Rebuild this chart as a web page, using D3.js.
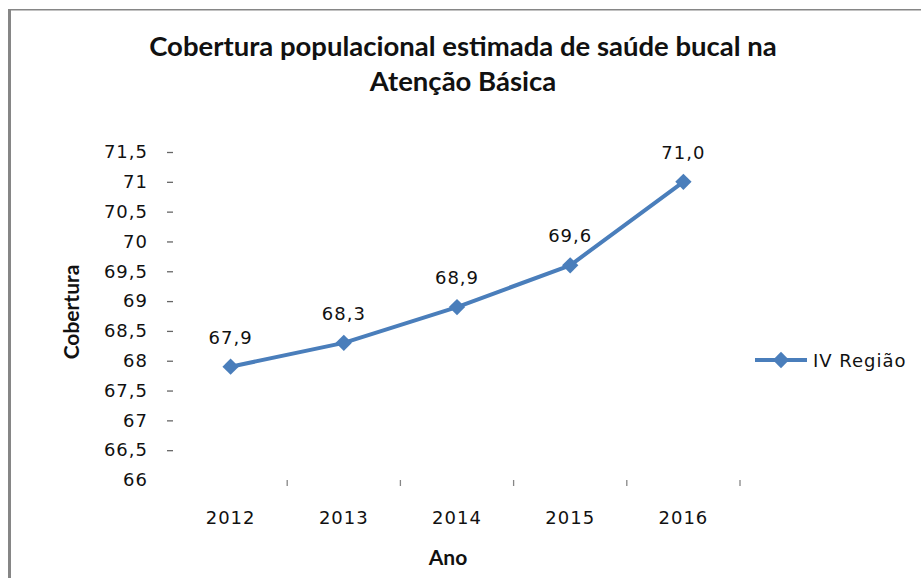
<!DOCTYPE html>
<html>
<head>
<meta charset="utf-8">
<script src="https://cdn.jsdelivr.net/npm/d3@7"></script>
<style>
  html, body { margin: 0; padding: 0; background: #fff; }
  svg { display: block; }
</style>
</head>
<body>
<svg id="chart" width="921" height="578"></svg>
<script>
// Cobertura populacional estimada de saúde bucal – IV Região
const years = ["2012", "2013", "2014", "2015", "2016"];
const coverage = [67.9, 68.3, 68.9, 69.6, 71.0];
const yTicks = [66, 66.5, 67, 67.5, 68, 68.5, 69, 69.5, 70, 70.5, 71, 71.5];
const seriesName = "IV Região";
const titleLines = ["Cobertura populacional estimada de saúde bucal na", "Atenção Básica"];
const xTitle = "Ano";
const yTitle = "Cobertura";

const svg = d3.select("#chart");
const W = 921, H = 578;
const plot = { left: 174, right: 740, top: 152, bottom: 480 };

const lineColor = "#4A7EBB";
const axisGray = "#868686";
const numFont = "'DejaVu Sans', Verdana, sans-serif";
const titleFont = "Lato, 'Open Sans', sans-serif";

// frame (left and top edges)
svg.append("rect").attr("x", 8).attr("y", 9).attr("width", 3).attr("height", H - 9).attr("fill", axisGray);
svg.append("rect").attr("x", 8).attr("y", 9).attr("width", W - 8).attr("height", 1.5).attr("fill", axisGray);

// scales
const x = d3.scaleBand().domain(years).range([plot.left, plot.right]);
const y = d3.scaleLinear().domain([66, 71.5]).range([plot.bottom, plot.top]);

// y axis: labels plus short outward dashes, no axis line
const yAxis = svg.append("g").attr("transform", `translate(${plot.left - 1},0)`)
  .call(d3.axisLeft(y).tickValues(yTicks).tickSize(6).tickPadding(19)
    .tickFormat(d => d3.format(".1~f")(d).replace(".", ",")));
yAxis.select(".domain").remove();
yAxis.selectAll(".tick line").attr("stroke", "#666").attr("stroke-width", 1.3)
  .attr("display", d => d === 66 ? "none" : null);
yAxis.selectAll(".tick text").attr("font-family", numFont).attr("font-size", 18)
  .attr("letter-spacing", 1).attr("fill", "#111");

// x axis: tick marks between categories, no axis line
const xg = svg.append("g").attr("transform", `translate(0,${plot.bottom})`);
const bounds = years.map(d => x(d) + x.bandwidth());
xg.selectAll("line.tick").data(bounds).join("line")
  .attr("x1", d => d).attr("x2", d => d).attr("y1", 0).attr("y2", 6)
  .attr("stroke", axisGray).attr("stroke-width", 1.3);
xg.selectAll("text.year").data(years).join("text")
  .attr("class", "year")
  .attr("x", d => x(d) + x.bandwidth() / 2).attr("y", 44)
  .attr("text-anchor", "middle")
  .attr("font-family", numFont).attr("font-size", 18).attr("letter-spacing", 1)
  .attr("fill", "#111").text(d => d);

// series line
const pts = years.map((yr, i) => ({ yr, v: coverage[i] }));
const px = d => x(d.yr) + x.bandwidth() / 2;
svg.append("path").datum(pts)
  .attr("fill", "none").attr("stroke", lineColor).attr("stroke-width", 4)
  .attr("stroke-linejoin", "round")
  .attr("d", d3.line().x(px).y(d => y(d.v)));

const diamond = d3.symbol().type(d3.symbolDiamond2).size(170);
svg.selectAll("path.marker").data(pts).join("path")
  .attr("class", "marker")
  .attr("transform", d => `translate(${px(d)},${y(d.v)})`)
  .attr("d", diamond).attr("fill", lineColor);

// value labels
svg.selectAll("text.val").data(pts).join("text")
  .attr("class", "val")
  .attr("x", d => px(d)).attr("y", d => y(d.v) - 23)
  .attr("text-anchor", "middle")
  .attr("font-family", numFont).attr("font-size", 18).attr("letter-spacing", 1)
  .attr("fill", "#111")
  .text(d => d3.format(".1f")(d.v).replace(".", ","));

// title
svg.append("text").attr("x", 463).attr("text-anchor", "middle")
  .attr("font-family", titleFont).attr("font-weight", "bold").attr("font-size", 27.5)
  .attr("fill", "#111")
  .selectAll("tspan").data(titleLines).join("tspan")
  .attr("x", 463).attr("y", (d, i) => 56 + i * 35).text(d => d);

// axis titles
svg.append("text").attr("x", 448).attr("y", 565).attr("text-anchor", "middle")
  .attr("font-family", titleFont).attr("font-weight", "bold").attr("font-size", 21)
  .attr("fill", "#111").text(xTitle);
svg.append("text").attr("transform", "translate(79,312) rotate(-90)")
  .attr("text-anchor", "middle")
  .attr("font-family", titleFont).attr("font-weight", "bold").attr("font-size", 21)
  .attr("fill", "#111").text(yTitle);

// legend
const lg = svg.append("g").attr("transform", "translate(755,360)");
lg.append("line").attr("x1", 0).attr("x2", 52).attr("y1", 0).attr("y2", 0)
  .attr("stroke", lineColor).attr("stroke-width", 4);
lg.append("path").attr("transform", "translate(26,0)").attr("d", diamond).attr("fill", lineColor);
lg.append("text").attr("x", 58).attr("y", 6.5)
  .attr("font-family", numFont).attr("font-size", 18).attr("letter-spacing", 1)
  .attr("fill", "#111").text(seriesName);
</script>
</body>
</html>
